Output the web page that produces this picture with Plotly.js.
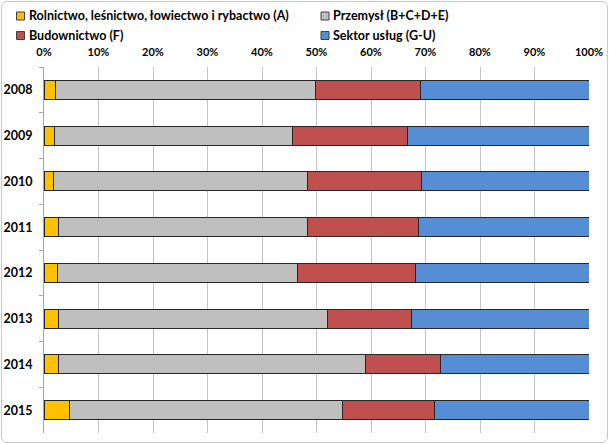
<!DOCTYPE html>
<html>
<head>
<meta charset="utf-8">
<script src="https://cdn.plot.ly/plotly-3.0.1.min.js"></script>
<style>
html,body{margin:0;padding:0;background:#fff;}
#wrap{position:relative;width:609px;height:444px;}
#chart{width:609px;height:444px;}
#frame{position:absolute;left:1px;top:1px;width:605px;height:440px;border:1px solid #c8c8c8;border-radius:6px;pointer-events:none;}
</style>
</head>
<body>
<div id="wrap"><div id="chart"></div><div id="frame"></div></div>
<script>
const years = ['2008','2009','2010','2011','2012','2013','2014','2015'];
const rolnictwo = [2.1, 1.9, 1.8, 2.7, 2.5, 2.7, 2.7, 4.6];
const przemysl  = [47.7, 43.7, 46.5, 45.6, 44.0, 49.3, 56.2, 50.1];
const budownictwo = [19.2, 21.1, 20.9, 20.4, 21.7, 15.5, 13.9, 17.0];
const uslugi = [31.0, 33.3, 30.8, 31.3, 31.8, 32.5, 27.2, 28.3];
const seriesNames = ['Rolnictwo, leśnictwo, łowiectwo i rybactwo (A)', 'Przemysł (B+C+D+E)', 'Budownictwo (F)', 'Sektor usług (G-U)'];
const tickVals = [0,10,20,30,40,50,60,70,80,90,100];
const tickText = ['0%','10%','20%','30%','40%','50%','60%','70%','80%','90%','100%'];

const colors = ['#FFC000', '#BFBFBF', '#C0504D', '#558ED5'];
const data = [rolnictwo, przemysl, budownictwo, uslugi].map((vals, i) => ({
  type: 'bar',
  orientation: 'h',
  name: seriesNames[i],
  y: years,
  x: vals,
  marker: {color: colors[i], line: {color: '#262626', width: 1}},
  hoverinfo: 'x+y+name',
  showlegend: false
}));

// plot area in pixels
const L = 44, R = 20, T = 67, B = 11, W = 609, H = 444;
const pw = W - L - R, ph = H - T - B;
const px = v => (v - L) / pw;
const py = v => (H - B - v) / ph;

const font = "Lato, 'Open Sans', sans-serif";
// manual legend: [marker left x, row center y]
const legendPos = [[16.5, 16], [321, 16], [16.5, 35.5], [321, 35.5]];
const shapes = [], annotations = [];
seriesNames.forEach((name, i) => {
  const [lx, cy] = legendPos[i];
  shapes.push({type: 'rect', xref: 'paper', yref: 'paper',
    x0: px(lx), x1: px(lx + 8), y0: py(cy + 4), y1: py(cy - 4),
    fillcolor: colors[i], line: {color: '#404040', width: 1}});
  annotations.push({xref: 'paper', yref: 'paper', x: px(lx + 10), y: py(cy),
    xanchor: 'left', yanchor: 'middle', showarrow: false, text: name,
    font: {family: font, size: 12.5, color: '#000', weight: 'bold'}});
});

const layout = {
  width: W, height: H,
  margin: {l: L, r: R, t: T, b: B, autoexpand: false},
  paper_bgcolor: '#fff', plot_bgcolor: '#fff',
  barmode: 'stack',
  bargap: 0.58,
  font: {family: font, color: '#000'},
  showlegend: false,
  shapes: shapes,
  annotations: annotations,
  xaxis: {
    side: 'top',
    range: [0, 100],
    tickvals: tickVals,
    ticktext: tickText,
    showgrid: true,
    gridcolor: '#C4C4C4',
    gridwidth: 1,
    zeroline: false,
    showline: false,
    ticks: '',
    ticklabelstandoff: 8,
    tickfont: {family: font, size: 11, color: '#000', weight: 'bold'},
    fixedrange: true
  },
  yaxis: {
    type: 'category',
    autorange: 'reversed',
    showline: true,
    linecolor: '#A6A6A6',
    linewidth: 1,
    ticks: 'outside',
    tickson: 'boundaries',
    ticklen: 4,
    tickcolor: '#A6A6A6',
    ticklabelstandoff: 8,
    showgrid: false,
    tickfont: {family: font, size: 12.5, color: '#000', weight: 'bold'},
    fixedrange: true
  }
};

Plotly.newPlot('chart', data, layout, {displayModeBar: false, staticPlot: true});
</script>
</body>
</html>
